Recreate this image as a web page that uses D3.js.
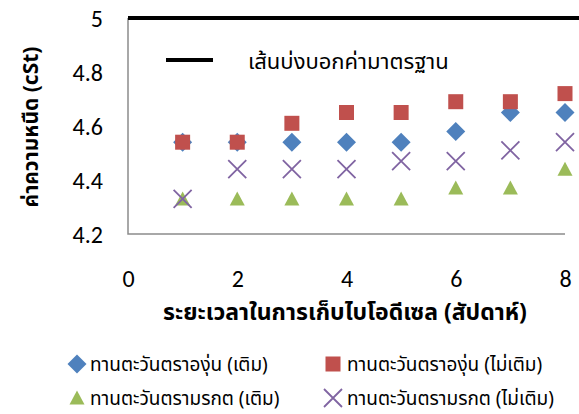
<!DOCTYPE html>
<html>
<head>
<meta charset="utf-8">
<script src="https://cdn.jsdelivr.net/npm/d3@7"></script>
<style>
  html, body { margin: 0; padding: 0; background: #fff; }
  svg { display: block; }
  .tick-text { font-family: Carlito, Lato, "Open Sans", sans-serif; font-size: 24px; fill: #000; }
  .thai { font-family: Tahoma, "Noto Sans Thai", "Noto Sans", "DejaVu Sans", sans-serif; fill: #000; }
</style>
</head>
<body>
<svg id="chart" width="579" height="414"></svg>
<script>
// Storage time in weeks
const weeks = [1, 2, 3, 4, 5, 6, 7, 8];

// Viscosity (cSt) for each sample
const grapeWith    = [4.54, 4.54, 4.54, 4.54, 4.54, 4.58, 4.65, 4.65];
const grapeWithout = [4.54, 4.54, 4.61, 4.65, 4.65, 4.69, 4.69, 4.72];
const emeraldWith    = [4.33, 4.33, 4.33, 4.33, 4.33, 4.37, 4.37, 4.44];
const emeraldWithout = [4.33, 4.44, 4.44, 4.44, 4.47, 4.47, 4.51, 4.54];

// Standard limit line
const standardValue = 5;
const standardX = [0, 8.26];

const seriesNames = [
  "ทานตะวันตราองุ่น (เติม)",
  "ทานตะวันตราองุ่น (ไม่เติม)",
  "ทานตะวันตรามรกต (เติม)",
  "ทานตะวันตรามรกต (ไม่เติม)"
];
const standardName = "เส้นบ่งบอกค่ามาตรฐาน";

const xTicks = [0, 2, 4, 6, 8];
const yTicks = [4.2, 4.4, 4.6, 4.8, 5];

const xTitle = "ระยะเวลาในการเก็บไบโอดีเซล (สัปดาห์)";
const yTitle = "ค่าความหนืด (cSt)";

const series = [
  { name: seriesNames[0], values: grapeWith,      color: "#4F81BD", shape: "diamond" },
  { name: seriesNames[1], values: grapeWithout,   color: "#C0504D", shape: "square" },
  { name: seriesNames[2], values: emeraldWith,    color: "#9BBB59", shape: "triangle" },
  { name: seriesNames[3], values: emeraldWithout, color: "#8064A2", shape: "cross" }
];

const svg = d3.select("#chart");
const plot = { left: 128, right: 565, top: 18, bottom: 234 };

const x = d3.scaleLinear().domain([0, 8]).range([plot.left, plot.right]);
const y = d3.scaleLinear().domain([4.2, 5]).range([plot.bottom, plot.top]);

// Marker drawing
function drawMarker(g, shape, color) {
  if (shape === "diamond") {
    g.append("path").attr("d", "M0,-9.5L9.5,0L0,9.5L-9.5,0Z").attr("fill", color);
  } else if (shape === "square") {
    g.append("rect").attr("x", -7.5).attr("y", -7.5).attr("width", 15).attr("height", 15).attr("fill", color);
  } else if (shape === "triangle") {
    g.append("path").attr("d", "M0,-7.5L7.5,6.5L-7.5,6.5Z").attr("fill", color);
  } else if (shape === "cross") {
    g.append("path").attr("d", "M-9,-9L9,9M9,-9L-9,9").attr("stroke", color).attr("stroke-width", 1.8).attr("fill", "none");
  }
}

// Axes (tick labels only, no tick marks)
const yAxis = d3.axisLeft(y).tickValues(yTicks).tickSize(0).tickPadding(25).tickFormat(d3.format("~g"));
const yG = svg.append("g").attr("transform", `translate(${plot.left},0)`).call(yAxis);
yG.select(".domain").remove();
yG.selectAll("text").attr("class", "tick-text").attr("font-size", null).attr("font-family", null).attr("dy", "0.35em");

const xAxis = d3.axisBottom(x).tickValues(xTicks).tickSize(0).tickPadding(36).tickFormat(d3.format("d"));
const xG = svg.append("g").attr("transform", `translate(0,${plot.bottom})`).call(xAxis);
xG.select(".domain").remove();
xG.selectAll("text").attr("class", "tick-text").attr("font-size", null).attr("font-family", null).attr("dy", "0.71em");

// Plot frame: left and bottom edges
svg.append("path")
  .attr("d", `M${plot.left},${plot.top}V${plot.bottom}H${plot.right}`)
  .attr("fill", "none").attr("stroke", "#8C8C8C").attr("stroke-width", 1.5);

// Data points
series.forEach(s => {
  svg.append("g").selectAll("g")
    .data(weeks.map((w, i) => ({ w, v: s.values[i] })))
    .join("g")
    .attr("transform", d => `translate(${x(d.w)},${y(d.v)})`)
    .each(function () { drawMarker(d3.select(this), s.shape, s.color); });
});

// Standard line
svg.append("path")
  .datum(standardX.map(v => [v, standardValue]))
  .attr("d", d3.line().x(d => x(d[0])).y(d => y(d[1])))
  .attr("stroke", "#000").attr("stroke-width", 4).attr("fill", "none");

// Legend for the standard line, inside the plot
svg.append("line").attr("x1", 166).attr("x2", 213).attr("y1", 60).attr("y2", 60)
  .attr("stroke", "#000").attr("stroke-width", 4);
svg.append("text").attr("class", "thai").attr("x", 248).attr("y", 69)
  .attr("font-size", 22).text(standardName);

// Axis titles
svg.append("text").attr("class", "thai")
  .attr("x", 345).attr("y", 320).attr("text-anchor", "middle")
  .attr("font-size", 23).attr("font-weight", "bold").text(xTitle);

svg.append("text").attr("class", "thai")
  .attr("transform", "translate(38,127) rotate(-90)").attr("text-anchor", "middle")
  .attr("font-size", 21).attr("font-weight", "bold").text(yTitle);

// Bottom legend
const legendPos = [
  { mx: 77, tx: 90, y: 364 },
  { mx: 333, tx: 347, y: 364 },
  { mx: 77, tx: 90, y: 398 },
  { mx: 333, tx: 347, y: 398 }
];
series.forEach((s, i) => {
  const p = legendPos[i];
  const g = svg.append("g").attr("transform", `translate(${p.mx},${p.y})`);
  drawMarker(g, s.shape, s.color);
  svg.append("text").attr("class", "thai").attr("x", p.tx).attr("y", p.y + 7)
    .attr("font-size", 19).text(s.name);
});
</script>
</body>
</html>
